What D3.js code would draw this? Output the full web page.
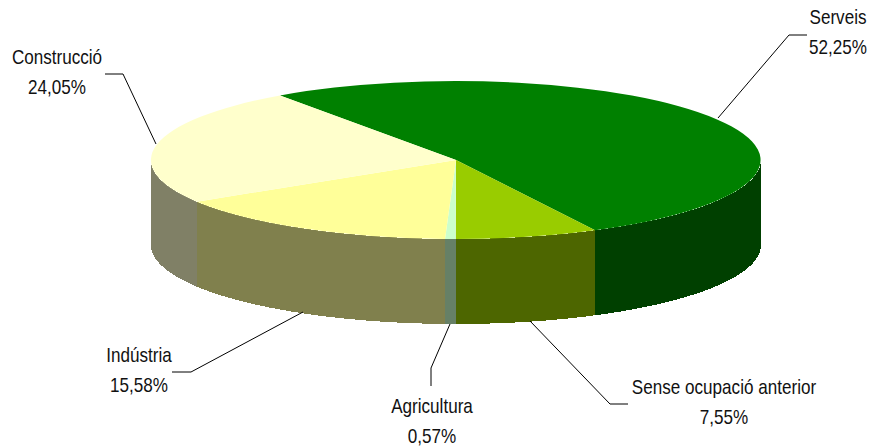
<!DOCTYPE html>
<html><head><meta charset="utf-8">
<script src="https://cdn.jsdelivr.net/npm/d3@7"></script>
<style>html,body{margin:0;padding:0;background:#fff}svg{display:block}
text{font-family:"Liberation Sans",Arial,sans-serif;font-size:20px;fill:#111}</style>
</head><body><script>
const categories=["Serveis","Sense ocupació anterior","Agricultura","Indústria","Construcció"];
const shares=[52.25,7.55,0.57,15.58,24.05];
const shareLabels=["52,25%","7,55%","0,57%","15,58%","24,05%"];
const topColors=["#008000","#99cc00","#ccffcc","#ffff99","#ffffcc"];
const sideColors=["#004000","#4d6600","#668066","#80804d","#808066"];
const labelAnchors=[[838,24],[724,394],[432,413],[139,362],[57,64]];
const leaders=[[[718,118],[789,35],[807,35]],[[530,321],[610,404],[628,404]],[[450,324],[431,368],[431,386]],[[303,312],[191,372],[172,372]],[[156,144],[123,74],[105,74]]];

const W=870,H=447,cx=456,cy=160,rx=305,ry=79,depth=85,squeeze=0.855;
const svg=d3.select("body").append("svg").attr("width",W).attr("height",H);
const pie=d3.pie().sort(null).startAngle(-35.25*Math.PI/180).endAngle(324.75*Math.PI/180);
const arcs=pie(shares);
const px=d3.scaleLinear().domain([-1,1]).range([cx-rx,cx+rx]);
const py=d3.scaleLinear().domain([-1,1]).range([cy-ry,cy+ry]);
const rim=(t,dy)=>[px(Math.sin(t)),py(-Math.cos(t))+dy];
const line=d3.line();
function wall(a){
  const lo=Math.max(a.startAngle,Math.PI/2),hi=Math.min(a.endAngle,1.5*Math.PI);
  if(hi<=lo) return null;
  const ts=d3.range(61).map(i=>lo+(hi-lo)*i/60);
  return line(ts.map(t=>rim(t,0)).concat(ts.slice().reverse().map(t=>rim(t,depth))))+"Z";
}
svg.append("g").attr("shape-rendering","crispEdges").selectAll("path").data(arcs).join("path")
  .attr("d",wall).attr("fill",(d,i)=>sideColors[i]);
const arc=d3.arc().innerRadius(0).outerRadius(1);
svg.append("g").attr("transform",`translate(${cx},${cy}) scale(${rx},${ry})`)
  .selectAll("path").data(arcs).join("path")
  .attr("d",arc).attr("fill",(d,i)=>topColors[i]);
svg.append("g").selectAll("path").data(leaders).join("path")
  .attr("d",d=>line(d)).attr("fill","none").attr("stroke","#000").attr("stroke-width",1);
const lab=svg.append("g").selectAll("text").data(categories).join("text")
  .attr("text-anchor","middle").attr("transform",(d,i)=>`translate(${labelAnchors[i]}) scale(${squeeze},1)`);
lab.append("tspan").attr("x",0).attr("y",0).text(d=>d);
lab.append("tspan").attr("x",0).attr("y",30).text((d,i)=>shareLabels[i]);
</script></body></html>
